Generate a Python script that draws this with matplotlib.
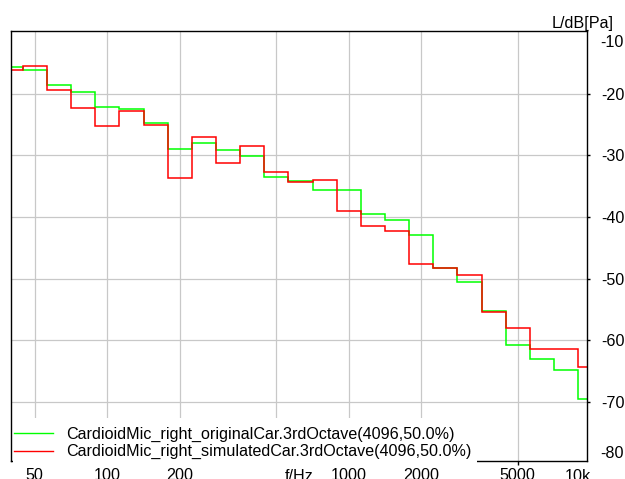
import numpy as np
import matplotlib
matplotlib.use("Agg")
import matplotlib.pyplot as plt
from matplotlib.patches import Rectangle

plt.rcParams['font.family'] = ['Liberation Sans', 'DejaVu Sans']
plt.rcParams['axes.unicode_minus'] = False

# third-octave band centres (Hz) and levels (dB re Pa)
bands = [40, 50, 63, 80, 100, 125, 160, 200, 250, 315, 400, 500, 630, 800,
         1000, 1250, 1600, 2000, 2500, 3150, 4000, 5000, 6300, 8000, 10000]
original = [-15.7, -16.1, -18.6, -19.8, -22.1, -22.5, -24.8, -29.0, -28.0, -29.2,
            -30.2, -33.5, -34.2, -35.6, -35.6, -39.5, -40.5, -42.9, -48.3, -50.5,
            -55.3, -60.8, -63.0, -64.9, -69.6]
simulated = [-16.1, -15.5, -19.5, -22.3, -25.3, -22.9, -25.1, -33.7, -27.0, -31.2,
             -28.5, -32.7, -34.3, -34.0, -39.1, -41.5, -42.3, -47.6, -48.3, -49.5,
             -55.5, -58.1, -61.5, -61.4, -64.3]
labels = ["CardioidMic_right_originalCar.3rdOctave(4096,50.0%)",
          "CardioidMic_right_simulatedCar.3rdOctave(4096,50.0%)"]
xticks = [50, 100, 200, 500, 1000, 2000, 5000]
xticklabels = ["50", "100", "200", "", "1000", "2000", "5000"]
yticks = [-70, -60, -50, -40, -30, -20]

FS = 11.6

# band edges from the nominal centres (exact base-10 third octaves)
n = np.round(10 * np.log10(np.array(bands) / 1000.0))
edges = 1000.0 * 10 ** (np.append(n - 0.5, n[-1] + 0.5) / 10)

fig = plt.figure(figsize=(6.25, 4.79), dpi=100)
ax = fig.add_axes([11 / 625, 18 / 479, 576 / 625, 430 / 479])

ax.stairs(original, edges, baseline=None, color="#00ff00", lw=1.1, label=labels[0])
ax.stairs(simulated, edges, baseline=None, color="#ff0000", lw=1.1, label=labels[1])

ax.set_xscale("log")
ax.set_xlim(39.9, 9700)
ax.set_ylim(-79.6, -9.85)
ax.set_xticks(xticks)
ax.set_xticklabels(xticklabels)
ax.xaxis.set_minor_locator(matplotlib.ticker.NullLocator())
ax.set_yticks(yticks)
ax.set_yticklabels([str(v) for v in yticks])
ax.yaxis.tick_right()
ax.tick_params(axis="y", length=2, width=1, pad=8.5, labelsize=FS)
ax.tick_params(axis="x", length=3, width=1, pad=2, labelsize=FS)
ax.grid(True, color="#c8c8c8", lw=0.9)
ax.set_axisbelow(True)
for s in ax.spines.values():
    s.set_linewidth(1.0)

# extra labels placed like the original software
ax.text(0.5, -0.019, "f/Hz", transform=ax.transAxes, ha="center", va="top", fontsize=FS)
ax.text(567 / 576, -0.019, "10k", transform=ax.transAxes, ha="center", va="top", fontsize=FS)
ax.text(1.0226, (461 - 42.3) / 430, "-10", transform=ax.transAxes, ha="left", va="center", fontsize=FS)
ax.text(1.0226, (461 - 454) / 430, "-80", transform=ax.transAxes, ha="left", va="center", fontsize=FS)
ax.text(603 / 576, (461 - 28.5) / 430, "L/dB[Pa]", transform=ax.transAxes, ha="right",
        va="baseline", fontsize=FS)

# white box behind legend, covering the bottom spine
ax.add_patch(Rectangle((0.003, -0.012), 0.806, 0.112, transform=ax.transAxes,
                       facecolor="white", edgecolor="none", zorder=4, clip_on=False))
leg = ax.legend(loc="lower left", bbox_to_anchor=(0.0052, 0.004), frameon=False,
                fontsize=FS, handlelength=2.4, handletextpad=0.85,
                labelspacing=0.12, borderpad=0, borderaxespad=0)
leg.set_zorder(5)
for h in leg.get_lines():
    h.set_linewidth(1.0)

fig.savefig("out.png", dpi=100)
